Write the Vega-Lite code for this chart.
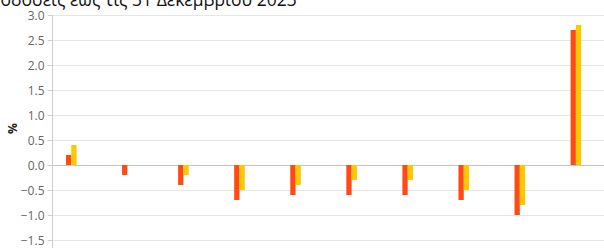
{
  "$schema": "https://vega.github.io/schema/vega-lite/v6.json",
  "width": 552,
  "height": 250,
  "autosize": {"type": "none"},
  "padding": {"left": 52, "top": 15, "right": 0, "bottom": 0},
  "background": "white",
  "config": {"view": {"stroke": null}, "font": "Open Sans"},
  "title": {
    "text": "Αποδόσεις έως τις 31 Δεκεμβρίου 2023",
    "anchor": "start",
    "frame": "group",
    "offset": 0,
    "dx": -74,
    "fontSize": 17.5,
    "fontWeight": "normal",
    "color": "#111111"
  },
  "data": {
    "values": [
      {"category": "1", "series": "A", "value": 0.2},
      {"category": "1", "series": "B", "value": 0.4},
      {"category": "2", "series": "A", "value": -0.2},
      {"category": "2", "series": "B", "value": 0.0},
      {"category": "3", "series": "A", "value": -0.4},
      {"category": "3", "series": "B", "value": -0.2},
      {"category": "4", "series": "A", "value": -0.7},
      {"category": "4", "series": "B", "value": -0.5},
      {"category": "5", "series": "A", "value": -0.6},
      {"category": "5", "series": "B", "value": -0.4},
      {"category": "6", "series": "A", "value": -0.6},
      {"category": "6", "series": "B", "value": -0.3},
      {"category": "7", "series": "A", "value": -0.6},
      {"category": "7", "series": "B", "value": -0.3},
      {"category": "8", "series": "A", "value": -0.7},
      {"category": "8", "series": "B", "value": -0.5},
      {"category": "9", "series": "A", "value": -1.0},
      {"category": "9", "series": "B", "value": -0.8},
      {"category": "10", "series": "A", "value": 2.7},
      {"category": "10", "series": "B", "value": 2.8}
    ]
  },
  "mark": {"type": "bar", "cornerRadius": 0},
  "encoding": {
    "x": {
      "field": "category",
      "type": "nominal",
      "sort": null,
      "axis": null,
      "scale": {"paddingInner": 0.811, "paddingOuter": 0.328, "align": 0.38}
    },
    "xOffset": {
      "field": "series",
      "type": "nominal",
      "scale": {"paddingInner": 0, "paddingOuter": 0}
    },
    "y": {
      "field": "value",
      "type": "quantitative",
      "scale": {"domain": [-2, 3], "nice": false},
      "axis": {
        "title": "%",
        "tickCount": 20,
        "values": [-2, -1.5, -1, -0.5, 0, 0.5, 1, 1.5, 2, 2.5, 3],
        "format": ".1f",
        "labelOverlap": false,
        "labelFontSize": 12,
        "labelColor": "#666666",
        "labelPadding": 3,
        "tickSize": 5,
        "tickColor": "#cccccc",
        "domainColor": "#cccccc",
        "grid": true,
        "gridColor": {"condition": {"test": "datum.value === 0", "value": "#c4c4c4"}, "value": "#e6e6e6"},
        "titleFontSize": 12,
        "titleFontWeight": "bold",
        "titleColor": "#222222",
        "titleAngle": -90,
        "titleAlign": "center",
        "titleBaseline": "middle",
        "titleX": -40,
        "titleY": 113
      }
    },
    "color": {
      "field": "series",
      "type": "nominal",
      "scale": {"domain": ["A", "B"], "range": ["#FF4A14", "#FFC700"]},
      "legend": null
    }
  }
}
